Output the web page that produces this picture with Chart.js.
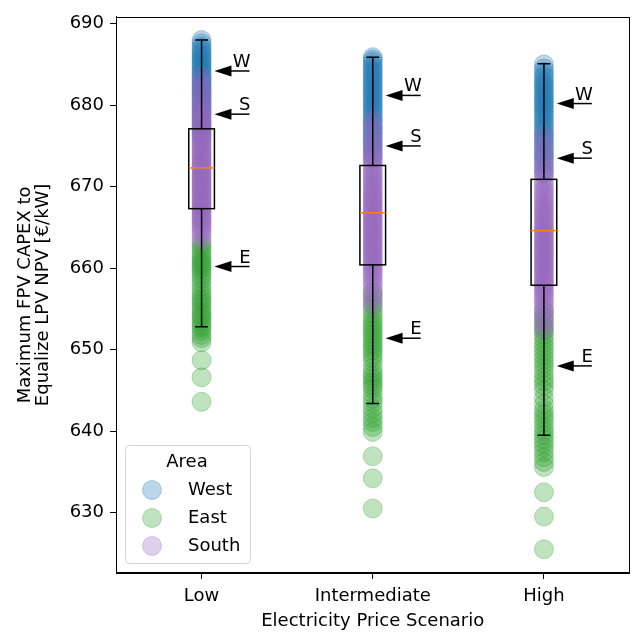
<!DOCTYPE html>
<html>
<head>
<meta charset="utf-8">
<script src="https://cdn.jsdelivr.net/npm/chart.js@4.4.1/dist/chart.umd.min.js"></script>
<style>
  html, body { margin: 0; padding: 0; background: #fff; }
</style>
</head>
<body>
<canvas id="chart" width="640" height="632"></canvas>
<script>
const categories = ['Low', 'Intermediate', 'High'];
const yTicks = [630, 640, 650, 660, 670, 680, 690];

// scatter values per area and scenario
const westLow = [676.2, 676.9, 677.3, 677.8, 678.2, 678.6, 679.0, 679.3, 679.7, 680.0, 680.3, 680.6,
  680.9, 681.2, 681.4, 681.7, 682.0, 682.3, 682.5, 682.8, 683.1, 683.3, 683.6, 683.9, 684.1, 684.4,
  684.7, 684.9, 685.2, 685.5, 685.7, 686.0, 686.3, 686.6, 686.9, 687.2, 687.6, 688.0];
const eastLow = [643.6, 646.6, 648.7, 650.9, 651.4, 651.8, 652.3, 652.7, 653.0, 653.4, 653.8, 654.1,
  654.4, 654.8, 655.2, 655.6, 656.0, 656.3, 656.7, 657.2, 657.7, 658.2, 658.7, 659.1, 659.5, 659.9,
  660.2, 660.5, 660.8, 661.1, 661.5, 661.9, 662.3, 662.7, 663.1];
const southLow = [663.4, 663.9, 664.3, 664.6, 664.9, 665.2, 665.5, 665.7, 666.0, 666.2, 666.5, 666.7,
  667.0, 667.2, 667.4, 667.7, 667.9, 668.1, 668.4, 668.6, 668.8, 669.1, 669.3, 669.5, 669.8, 670.0,
  670.2, 670.5, 670.7, 670.9, 671.2, 671.4, 671.6, 671.9, 672.1, 672.3, 672.6, 672.8, 673.0, 673.3,
  673.5, 673.7, 674.0, 674.2, 674.5, 674.7, 675.0, 675.2, 675.5, 675.7, 676.0, 676.3, 676.5, 676.8,
  677.1, 677.4, 677.7, 678.0, 678.3, 678.7, 679.0, 679.4, 679.8, 680.3, 680.8, 681.4, 682.0, 682.7,
  683.5];

const westInter = [673.4, 674.0, 674.5, 674.9, 675.3, 675.7, 676.1, 676.5, 676.8, 677.2, 677.5, 677.9,
  678.2, 678.5, 678.9, 679.2, 679.5, 679.8, 680.1, 680.4, 680.7, 681.0, 681.3, 681.6, 681.9, 682.2,
  682.5, 682.8, 683.1, 683.4, 683.7, 684.0, 684.3, 684.6, 684.9, 685.3, 685.6, 685.9];
const eastInter = [630.5, 634.2, 636.9, 639.9, 640.5, 641.1, 641.6, 642.2, 642.8, 643.5, 644.0, 644.6,
  645.2, 645.6, 646.0, 646.4, 646.8, 647.2, 647.8, 648.5, 649.0, 649.4, 649.9, 650.3, 650.7, 651.1,
  651.5, 651.9, 652.3, 652.7, 653.1, 653.5, 654.0, 654.5, 655.0, 655.6, 656.3, 657.0];
const southInter = [655.4, 656.0, 656.6, 657.1, 657.6, 658.0, 658.4, 658.8, 659.1, 659.5, 659.8, 660.1,
  660.4, 660.7, 661.0, 661.2, 661.5, 661.8, 662.0, 662.3, 662.6, 662.8, 663.1, 663.4, 663.6, 663.9,
  664.2, 664.4, 664.7, 665.0, 665.2, 665.5, 665.8, 666.0, 666.3, 666.6, 666.8, 667.1, 667.4, 667.6,
  667.9, 668.2, 668.4, 668.7, 669.0, 669.2, 669.5, 669.8, 670.1, 670.4, 670.7, 671.0, 671.3, 671.6,
  671.9, 672.3, 672.6, 673.0, 673.4, 673.8, 674.2, 674.7, 675.2, 675.8, 676.5, 677.3, 678.2];

const westHigh = [671.6, 672.2, 672.8, 673.3, 673.7, 674.1, 674.5, 674.9, 675.3, 675.7, 676.0, 676.4,
  676.7, 677.1, 677.4, 677.8, 678.1, 678.4, 678.8, 679.1, 679.4, 679.7, 680.0, 680.3, 680.6, 680.9,
  681.2, 681.5, 681.8, 682.1, 682.4, 682.7, 683.0, 683.4, 683.7, 684.1, 684.5, 685.0];
const eastHigh = [625.5, 629.5, 632.5, 635.6, 636.2, 636.8, 637.4, 638.0, 638.5, 639.0, 639.5, 640.0,
  640.5, 641.1, 641.6, 642.1, 642.6, 643.3, 644.1, 645.0, 645.6, 646.1, 646.6, 647.2, 647.8, 648.3,
  648.8, 649.3, 649.8, 650.3, 650.8, 651.3, 651.8, 652.3, 652.8, 653.4, 654.0, 654.7];
const southHigh = [652.4, 653.0, 653.6, 654.1, 654.6, 655.0, 655.4, 655.8, 656.1, 656.5, 656.8, 657.1,
  657.4, 657.7, 658.0, 658.2, 658.5, 658.8, 659.1, 659.3, 659.6, 659.9, 660.1, 660.4, 660.7, 660.9,
  661.2, 661.5, 661.7, 662.0, 662.3, 662.5, 662.8, 663.1, 663.3, 663.6, 663.9, 664.1, 664.4, 664.7,
  665.0, 665.2, 665.5, 665.8, 666.1, 666.4, 666.7, 667.0, 667.3, 667.6, 667.9, 668.2, 668.6, 668.9,
  669.3, 669.6, 670.0, 670.4, 670.8, 671.3, 671.8, 672.3, 672.9, 673.6, 674.4, 675.3, 676.3];

// box plot stats per scenario
const boxQ1 = [667.3, 660.4, 657.9];
const boxMedian = [672.3, 666.8, 664.6];
const boxQ3 = [677.1, 672.6, 670.9];
const whiskerLow = [652.8, 643.4, 639.5];
const whiskerHigh = [688.0, 685.9, 685.1];

// arrow markers per area
const arrowLabels = ['W', 'S', 'E'];
const arrowW = [684.2, 681.2, 680.2];
const arrowS = [678.9, 675.0, 673.5];
const arrowE = [660.2, 651.4, 648.0];

const FONT = 'DejaVu Sans';

function toPoints(lists) {
  const pts = [];
  lists.forEach((vals, i) => vals.forEach(v => pts.push({ x: i, y: v })));
  return pts;
}

const areas = [
  { label: 'West', data: toPoints([westLow, westInter, westHigh]), color: 'rgba(31, 119, 180, 0.3)', order: 3 },
  { label: 'East', data: toPoints([eastLow, eastInter, eastHigh]), color: 'rgba(44, 160, 44, 0.3)', order: 2 },
  { label: 'South', data: toPoints([southLow, southInter, southHigh]), color: 'rgba(148, 103, 189, 0.3)', order: 1 },
];

const boxPlugin = {
  id: 'boxes',
  afterDatasetsDraw(chart) {
    const { ctx, scales: { x, y } } = chart;
    ctx.save();
    ctx.lineWidth = 1.5;
    categories.forEach((c, i) => {
      const l = x.getPixelForValue(i - 0.075), r = x.getPixelForValue(i + 0.075);
      const cl = x.getPixelForValue(i - 0.0375), cr = x.getPixelForValue(i + 0.0375);
      const xc = x.getPixelForValue(i);
      const q1 = y.getPixelForValue(boxQ1[i]), q3 = y.getPixelForValue(boxQ3[i]);
      const lo = y.getPixelForValue(whiskerLow[i]), hi = y.getPixelForValue(whiskerHigh[i]);
      const md = y.getPixelForValue(boxMedian[i]);
      ctx.strokeStyle = '#000';
      ctx.strokeRect(l, q3, r - l, q1 - q3);
      ctx.beginPath();
      ctx.moveTo(xc, q3); ctx.lineTo(xc, hi);
      ctx.moveTo(xc, q1); ctx.lineTo(xc, lo);
      ctx.moveTo(cl, hi); ctx.lineTo(cr, hi);
      ctx.moveTo(cl, lo); ctx.lineTo(cr, lo);
      ctx.stroke();
      ctx.strokeStyle = '#ff7f0e';
      ctx.beginPath();
      ctx.moveTo(l, md); ctx.lineTo(r, md);
      ctx.stroke();
    });
    ctx.restore();
  }
};

const arrowPlugin = {
  id: 'arrows',
  afterDatasetsDraw(chart) {
    const { ctx, scales: { x, y } } = chart;
    const rows = [arrowW, arrowS, arrowE];
    ctx.save();
    ctx.fillStyle = '#000';
    ctx.strokeStyle = '#000';
    ctx.lineWidth = 1.5;
    ctx.font = '18px "' + FONT + '"';
    ctx.textAlign = 'right';
    ctx.textBaseline = 'alphabetic';
    categories.forEach((c, i) => {
      const tip = x.getPixelForValue(i + 0.075);
      const tail = x.getPixelForValue(i + 0.28);
      rows.forEach((vals, k) => {
        const py = y.getPixelForValue(vals[i]);
        ctx.beginPath();
        ctx.moveTo(tail, py); ctx.lineTo(tip + 14, py);
        ctx.stroke();
        ctx.beginPath();
        ctx.moveTo(tip, py);
        ctx.lineTo(tip + 17, py - 5.5);
        ctx.lineTo(tip + 17, py + 5.5);
        ctx.closePath();
        ctx.fill();
        ctx.fillText(arrowLabels[k], tail + 1, py - 4);
      });
    });
    ctx.restore();
  }
};

const framePlugin = {
  id: 'frame',
  afterDraw(chart) {
    const { ctx, chartArea: a } = chart;
    ctx.save();
    ctx.strokeStyle = '#000';
    ctx.lineWidth = 1;
    ctx.strokeRect(Math.round(a.left) + 0.5, Math.round(a.top) + 0.5,
      Math.round(a.right - a.left) - 1, Math.round(a.bottom - a.top) - 1);

    // legend box
    const lx = a.left + 9, ly = a.bottom - 10 - 118, lw = 125, lh = 118;
    ctx.beginPath();
    ctx.roundRect(lx + 0.5, ly + 0.5, lw, lh, 4);
    ctx.fillStyle = 'rgba(255,255,255,0.8)';
    ctx.fill();
    ctx.strokeStyle = '#d4d4d4';
    ctx.stroke();
    ctx.font = '18px "' + FONT + '"';
    ctx.fillStyle = '#000';
    ctx.textBaseline = 'middle';
    ctx.textAlign = 'center';
    ctx.fillText('Area', lx + 62, ly + 17);
    ctx.textAlign = 'left';
    areas.forEach((ar, k) => {
      const cy = ly + 45 + k * 28;
      ctx.beginPath();
      ctx.arc(lx + 27, cy, 9.5, 0, Math.PI * 2);
      ctx.fillStyle = ar.color;
      ctx.fill();
      ctx.strokeStyle = ar.color;
      ctx.lineWidth = 1;
      ctx.stroke();
      ctx.fillStyle = '#000';
      ctx.fillText(ar.label, lx + 63, cy);
    });
    ctx.restore();
  }
};

new Chart(document.getElementById('chart').getContext('2d'), {
  type: 'scatter',
  data: {
    datasets: areas.map(ar => ({
      label: ar.label,
      data: ar.data,
      order: ar.order,
      backgroundColor: ar.color,
      borderColor: ar.color,
      borderWidth: 1,
      pointRadius: 9.5,
      pointHoverRadius: 9.5,
    })),
  },
  options: {
    responsive: false,
    animation: false,
    devicePixelRatio: 1,
    layout: { padding: { top: 12, right: 3, left: 0, bottom: 0 } },
    plugins: { legend: { display: false }, tooltip: { enabled: false } },
    scales: {
      x: {
        type: 'linear',
        min: -0.5,
        max: 2.5,
        afterBuildTicks: scale => { scale.ticks = categories.map((c, i) => ({ value: i })); },
        afterFit: scale => { scale.height = 59; },
        ticks: {
          callback: v => categories[v],
          color: '#000',
          font: { family: FONT, size: 18 },
          padding: 7,
          maxRotation: 0,
        },
        grid: { display: true, drawOnChartArea: false, tickLength: 6, color: '#000' },
        border: { display: true, color: '#000' },
        title: {
          display: true,
          text: 'Electricity Price Scenario',
          color: '#000',
          font: { family: FONT, size: 18 },
          padding: { top: 0, bottom: 0 },
        },
      },
      y: {
        type: 'linear',
        min: 622.58,
        max: 690.85,
        afterBuildTicks: scale => { scale.ticks = yTicks.map(v => ({ value: v })); },
        afterFit: scale => { scale.width = 116; },
        ticks: {
          color: '#000',
          font: { family: FONT, size: 18 },
          padding: 6,
        },
        grid: { display: true, drawOnChartArea: false, tickLength: 6, color: '#000' },
        border: { display: true, color: '#000' },
        title: {
          display: true,
          text: ['Maximum FPV CAPEX to', 'Equalize LPV NPV [€/kW]'],
          color: '#000',
          font: { family: FONT, size: 18, lineHeight: 1.02 },
          padding: { top: 16, bottom: 0 },
        },
      },
    },
  },
  plugins: [boxPlugin, arrowPlugin, framePlugin],
});
</script>
</body>
</html>
